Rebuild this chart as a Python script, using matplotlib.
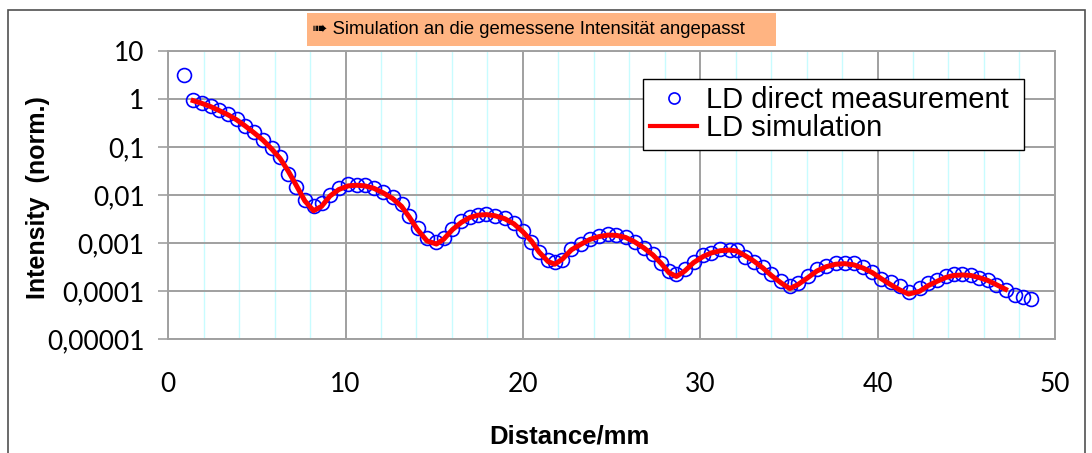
import matplotlib.pyplot as plt
from matplotlib.lines import Line2D
from matplotlib.ticker import FixedLocator, NullFormatter

# measured distances (mm) and normalised intensities
meas_dist = [0.90, 1.41, 1.88, 2.39, 2.87, 3.38, 3.86, 4.32, 4.83, 5.34,
             5.83, 6.31, 6.76, 7.22, 7.71, 8.20, 8.65, 9.12, 9.62, 10.15,
             10.62, 11.09, 11.60, 12.10, 12.65, 13.16, 13.59, 14.06, 14.60, 15.13,
             15.54, 16.03, 16.54, 17.01, 17.47, 17.95, 18.42, 18.98, 19.50, 20.01,
             20.48, 20.91, 21.42, 21.80, 22.23, 22.74, 23.30, 23.77, 24.30, 24.80,
             25.28, 25.80, 26.31, 26.82, 27.34, 27.81, 28.24, 28.66, 29.13, 29.63,
             30.16, 30.63, 31.14, 31.66, 32.06, 32.51, 33.02, 33.54, 34.01, 34.58,
             35.05, 35.51, 36.08, 36.58, 37.11, 37.64, 38.15, 38.65, 39.18, 39.71,
             40.21, 40.74, 41.25, 41.75, 42.37, 42.84, 43.35, 43.84, 44.29, 44.78,
             45.25, 45.72, 46.22, 46.70, 47.22, 47.73, 48.20, 48.67]
meas_int = [3.16, 0.95, 0.84, 0.71, 0.59, 0.48, 0.38, 0.27, 0.21, 0.14,
            0.094, 0.062, 0.027, 0.015, 0.0079, 0.0060, 0.0068, 0.010, 0.014, 0.017,
            0.016, 0.016, 0.014, 0.0113, 0.0089, 0.0065, 0.0037, 0.0021, 0.00126, 0.00107,
            0.00126, 0.0020, 0.0029, 0.0035, 0.0038, 0.0040, 0.0037, 0.0033, 0.0026, 0.0018,
            0.00107, 0.00066, 0.00044, 0.00040, 0.00045, 0.00074, 0.00096, 0.0012, 0.0014, 0.00155,
            0.00147, 0.0013, 0.00107, 0.0008, 0.00058, 0.00039, 0.00026, 0.00022, 0.00028, 0.00041,
            0.00056, 0.00063, 0.00074, 0.00071, 0.0007, 0.00051, 0.00041, 0.00032, 0.00023, 0.000162,
            0.000124, 0.000145, 0.0002, 0.00028, 0.00033, 0.00038, 0.00039, 0.00038, 0.00031, 0.00025,
            0.00018, 0.000155, 0.000124, 0.000093, 0.000114, 0.000145, 0.00017, 0.0002, 0.00022, 0.00022,
            0.00021, 0.00019, 0.00017, 0.000133, 0.000105, 0.000082, 0.000075, 0.000069]

# simulated curve, same positions from 1.41 to 47.22 mm
sim_dist = meas_dist[1:95]
sim_int = [0.93, 0.82, 0.70, 0.58, 0.47, 0.37, 0.28, 0.20, 0.14,
           0.092, 0.058, 0.032, 0.016, 0.0075, 0.0047, 0.0058, 0.0095, 0.013, 0.0155,
           0.016, 0.0155, 0.0138, 0.0112, 0.0085, 0.0058, 0.0035, 0.0019, 0.0011, 0.00095,
           0.0012, 0.0019, 0.0027, 0.0034, 0.0038, 0.0039, 0.0037, 0.0032, 0.0025, 0.0017,
           0.0011, 0.00065, 0.00041, 0.00036, 0.00046, 0.00072, 0.00095, 0.00118, 0.00136, 0.00146,
           0.00144, 0.0013, 0.00105, 0.00079, 0.00056, 0.00037, 0.00024, 0.0002, 0.00026, 0.00039,
           0.00052, 0.00062, 0.00069, 0.00071, 0.00068, 0.00055, 0.00042, 0.0003, 0.00021, 0.000145,
           0.000112, 0.000135, 0.00019, 0.00026, 0.00032, 0.00036, 0.00037, 0.00035, 0.0003, 0.00024,
           0.00018, 0.000135, 0.000105, 0.000086, 0.000098, 0.000128, 0.000158, 0.00019, 0.00021, 0.000215,
           0.00021, 0.00019, 0.000165, 0.000135, 0.000108]

y_ticks = [10, 1, 0.1, 0.01, 0.001, 0.0001, 0.00001]
y_labels = ["10", "1", "0,1", "0,01", "0,001", "0,0001", "0,00001"]
x_ticks = [0, 10, 20, 30, 40, 50]
x_minor = [2, 4, 6, 8, 12, 14, 16, 18, 22, 24, 26, 28, 32, 34, 36, 38, 42, 44, 46, 48]

W, H = 1092, 453
fig = plt.figure(figsize=(W / 100, H / 100), dpi=100)
ax = fig.add_axes([0.154, 0.252, 0.812, 0.635])

ax.set_yscale('log')
ax.set_xlim(0, 50)
ax.set_ylim(1e-5, 10)

# grid: grey major lines, light cyan minor verticals
ax.yaxis.set_major_locator(FixedLocator(y_ticks))
ax.yaxis.set_minor_locator(FixedLocator([]))
ax.set_yticklabels(y_labels)
ax.set_xticks(x_ticks)
ax.xaxis.set_minor_locator(FixedLocator(x_minor))
ax.xaxis.set_minor_formatter(NullFormatter())
ax.grid(True, which='minor', axis='x', color='#c8fcff', linewidth=1.0, zorder=0)
ax.grid(True, which='major', color='#a0a0a0', linewidth=1.4, zorder=0)
ax.set_axisbelow(True)

for s in ax.spines.values():
    s.set_color('#a0a0a0')
    s.set_linewidth(1.4)

ax.tick_params(axis='y', which='major', length=7, width=1.2, color='#a0a0a0', pad=10,
               labelsize=19, labelfontfamily='Lato')
ax.tick_params(axis='x', which='both', length=0, pad=24, labelsize=19,
               labelfontfamily='Lato')

ax.plot(meas_dist, meas_int, linestyle='none', marker='o', markersize=10,
        markerfacecolor='none', markeredgecolor='#0000ff', markeredgewidth=1.2, zorder=3)
ax.plot(sim_dist, sim_int, color='#ff0000', linewidth=3.6, zorder=4)

handles = [Line2D([], [], linestyle='none', marker='o', markersize=8, markerfacecolor='none',
                  markeredgecolor='#0000ff', markeredgewidth=1.2),
           Line2D([], [], color='#ff0000', linewidth=3)]
leg = ax.legend(handles, ['LD direct measurement ', 'LD simulation'], loc='upper right',
                bbox_to_anchor=(0.965, 0.905), borderaxespad=0, fancybox=False,
                framealpha=1, edgecolor='black', handlelength=1.6, handletextpad=0.3,
                labelspacing=0.02, borderpad=0.25,
                prop={'family': 'Liberation Sans', 'size': 21})
leg.get_frame().set_linewidth(1.0)

# axis titles placed where the original has them
fig.text(38 / W, 1 - 198 / H, 'Intensity  (norm.)', fontsize=18, fontweight='bold',
         family='Liberation Sans', rotation=90, ha='center', va='center')
fig.text(569 / W, 1 - 437 / H, 'Distance/mm', fontsize=18.5, fontweight='bold',
         family='Liberation Sans', ha='center', va='center')

# note box above the chart
fig.add_artist(plt.Rectangle((307 / W, 1 - 46 / H), (776 - 307) / W, 33 / H,
                             transform=fig.transFigure, facecolor='#ffb482',
                             edgecolor='none'))
fig.text(312 / W, 1 - 29.5 / H, '\u27a0 Simulation an die gemessene Intensität angepasst',
         fontsize=13.3, family=['Liberation Sans', 'DejaVu Sans'], va='center', ha='left')

# outer chart frame
frame = plt.Rectangle((8 / W, -0.1), (1085 - 8) / W, 1.1 - 10 / H,
                      transform=fig.transFigure, fill=False, edgecolor='#505050',
                      linewidth=1.2)
fig.add_artist(frame)

fig.savefig('out.png', dpi=100)
